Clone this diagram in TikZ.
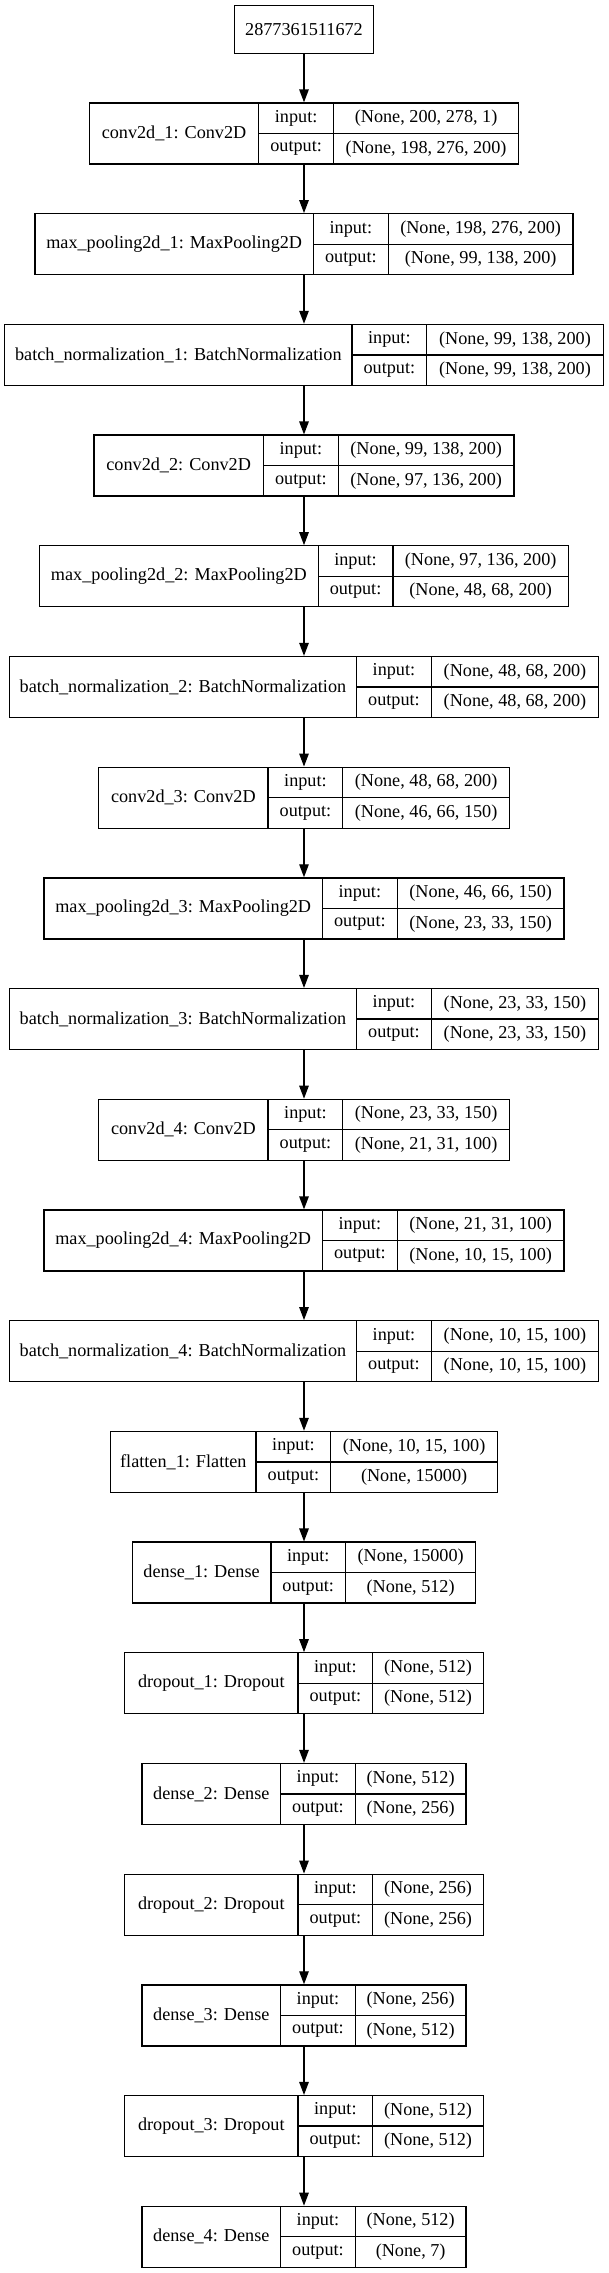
\documentclass[tikz,border=0pt]{standalone}
\usepackage{fontspec}
\setmainfont{Liberation Serif}
\usetikzlibrary{arrows.meta}
\tikzset{
    layerbox/.style={
        draw,
        line width=1.3pt,
        minimum height=61pt,
        inner sep=0pt
    },
    idbox/.style={
        layerbox,
        minimum width=139.3pt,
        minimum height=47.6pt,
        font={\fontsize{18.2pt}{22pt}\selectfont}
    },
    celltext/.style={inner sep=0pt, font={\fontsize{18.2pt}{22pt}\selectfont}},
}
\begin{document}
\begin{tikzpicture}[x=1pt, y=-1pt, line width=1.3pt, >={Triangle[length=13pt,width=9.5pt]}]
\useasboundingbox (0,0) rectangle (608,2273);

\node [idbox] (layer-0) at (304,29.5) {2877361511672};

\foreach \nm/\ishp/\oshp/\lft/\dv [count=\k] in {
  conv2d\_1: Conv2D/{(None, 200, 278, 1)}/{(None, 198, 276, 200)}/89.3/258.8,
  max\_pooling2d\_1: MaxPooling2D/{(None, 198, 276, 200)}/{(None, 99, 138, 200)}/34.9/313.5,
  batch\_normalization\_1: BatchNormalization/{(None, 99, 138, 200)}/{(None, 99, 138, 200)}/4.7/352.0,
  conv2d\_2: Conv2D/{(None, 99, 138, 200)}/{(None, 97, 136, 200)}/93.9/263.5,
  max\_pooling2d\_2: MaxPooling2D/{(None, 97, 136, 200)}/{(None, 48, 68, 200)}/39.6/318.2,
  batch\_normalization\_2: BatchNormalization/{(None, 48, 68, 200)}/{(None, 48, 68, 200)}/9.3/356.6,
  conv2d\_3: Conv2D/{(None, 48, 68, 200)}/{(None, 46, 66, 150)}/98.6/268.1,
  max\_pooling2d\_3: MaxPooling2D/{(None, 46, 66, 150)}/{(None, 23, 33, 150)}/43.9/322.5,
  batch\_normalization\_3: BatchNormalization/{(None, 23, 33, 150)}/{(None, 23, 33, 150)}/9.3/356.6,
  conv2d\_4: Conv2D/{(None, 23, 33, 150)}/{(None, 21, 31, 100)}/98.6/268.1,
  max\_pooling2d\_4: MaxPooling2D/{(None, 21, 31, 100)}/{(None, 10, 15, 100)}/43.9/322.5,
  batch\_normalization\_4: BatchNormalization/{(None, 10, 15, 100)}/{(None, 10, 15, 100)}/9.3/356.6,
  flatten\_1: Flatten/{(None, 10, 15, 100)}/{(None, 15000)}/110.6/256.1,
  dense\_1: Dense/{(None, 15000)}/{(None, 512)}/132.3/270.9,
  dropout\_1: Dropout/{(None, 512)}/{(None, 512)}/124.6/298.0,
  dense\_2: Dense/{(None, 512)}/{(None, 256)}/142.0/280.6,
  dropout\_2: Dropout/{(None, 256)}/{(None, 256)}/124.6/298.0,
  dense\_3: Dense/{(None, 256)}/{(None, 512)}/142.0/280.6,
  dropout\_3: Dropout/{(None, 512)}/{(None, 512)}/124.6/298.0,
  dense\_4: Dense/{(None, 512)}/{(None, 7)}/142.0/280.6}
{
  \pgfmathsetmacro{\yc}{133.5+(\k-1)*110.7}
  \pgfmathsetmacro{\dvb}{\dv+74.7}
  \pgfmathsetmacro{\rgt}{608-\lft}
  \pgfmathsetmacro{\boxw}{\rgt-\lft}
  \node [layerbox, minimum width=\boxw pt] (layer-\k) at (304,\yc) {};
  \draw (\dv,\yc-30.5) -- (\dv,\yc+30.5);
  \draw (\dvb,\yc-30.5) -- (\dvb,\yc+30.5);
  \draw (\dv,\yc) -- (\rgt,\yc);
  \node [celltext] (name-\k) at ({(\lft+\dv)/2},\yc) {\nm};
  \node [celltext] (in-\k) at ({(\dv+\dvb)/2},\yc-15.25) {input:};
  \node [celltext] (out-\k) at ({(\dv+\dvb)/2},\yc+15.25) {output:};
  \node [celltext] (inshape-\k) at ({(\dvb+\rgt)/2},\yc-15.25) {\ishp};
  \node [celltext] (outshape-\k) at ({(\dvb+\rgt)/2},\yc+15.25) {\oshp};
}

\foreach \k [evaluate=\k as \j using int(\k+1)] in {0,...,19}
  \draw [->] (layer-\k) -- (layer-\j);

\end{tikzpicture}
\end{document}
